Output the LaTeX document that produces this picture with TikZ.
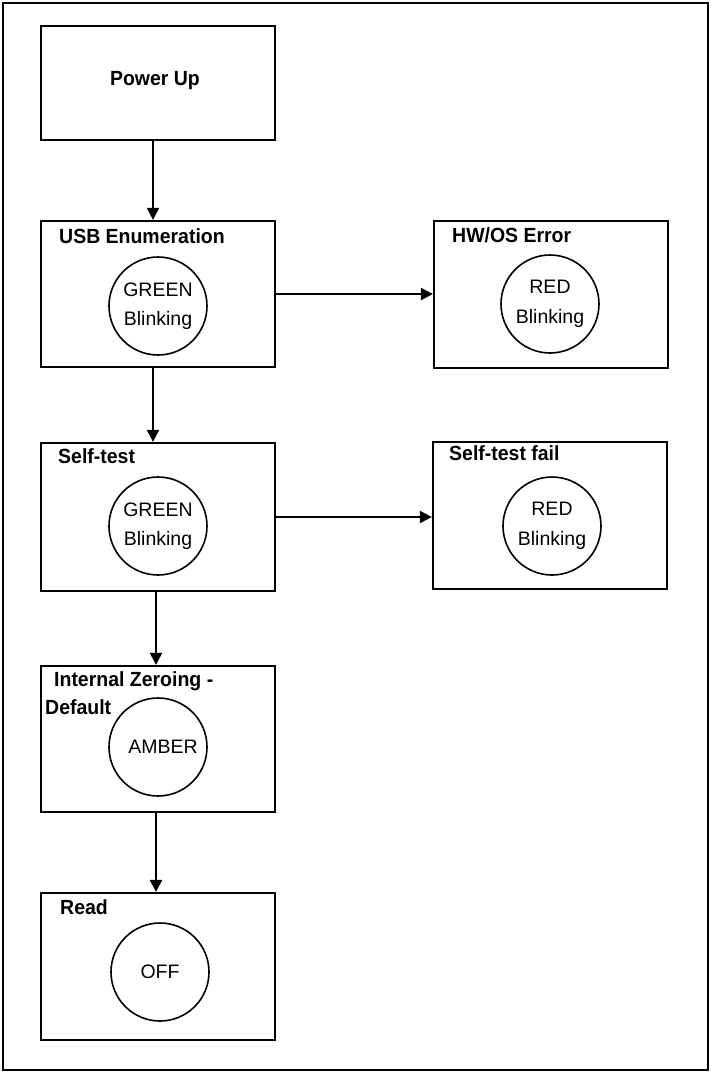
\documentclass[tikz,border=0pt]{standalone}
\usepackage{fontspec}
\setmainfont{Liberation Sans}
\newfontfamily\ttlfont[FakeStretch=0.95]{Liberation Sans}
\usetikzlibrary{arrows.meta}
\begin{document}
\begin{tikzpicture}[x=1pt,y=-1pt,
  statebox/.style={draw,line width=2.2pt,rectangle,minimum width=234pt,inner sep=0pt},
  lamp/.style={draw,line width=1.6pt,circle,minimum size=98pt,inner sep=0pt,align=center,font=\fontsize{19.5}{29.5}\selectfont},
  ttl/.style={anchor=base west,inner sep=0pt,font=\ttlfont\fontsize{20.5}{24}\selectfont\bfseries},
  arr/.style={line width=2pt,-{Triangle[width=12pt,length=12pt]}}]
\useasboundingbox (0,0) rectangle (711,1072);
\draw[line width=2.2pt] (3,3) rectangle (708,1070);
% boxes
\node[statebox,minimum height=114pt] (pu) at (158,83) {};
\node[statebox,minimum height=146pt] (usb) at (158,294) {};
\node[statebox,minimum height=147pt] (hw) at (551,294.5) {};
\node[statebox,minimum height=148pt] (st) at (158,517) {};
\node[statebox,minimum height=147pt] (stf) at (550,515.5) {};
\node[statebox,minimum height=146pt] (iz) at (158,739) {};
\node[statebox,minimum height=147pt] (rd) at (158,966.5) {};
% titles
\node[ttl,anchor=base] (tpu) at (155,85) {Power Up};
\node[ttl] (tusb) at (59,243) {USB Enumeration};
\node[ttl] (thw) at (452,242) {HW/OS Error};
\node[ttl] (tst) at (58,463) {Self-test};
\node[ttl] (tstf) at (449,460) {Self-test fail};
\node[ttl] (tiz1) at (54,686) {Internal Zeroing -};
\node[ttl] (tiz2) at (45,714) {Default};
\node[ttl] (trd) at (60,914) {Read};
% lamps
\node[lamp] (cusb) at (158,306) {GREEN\\Blinking};
\node[lamp] (chw) at (550,304) {RED\\Blinking};
\node[lamp] (cst) at (158,526) {GREEN\\Blinking};
\node[lamp] (cstf) at (552,526) {RED\\Blinking};
\node[lamp] (ciz) at (158,747) {\hspace*{10pt}AMBER};
\node[lamp] (crd) at (160,972) {OFF};
% connectors
\draw[arr] ([xshift=-5pt]pu.south) -- ([xshift=-5pt]usb.north);
\draw[arr] ([xshift=-5pt]usb.south) -- ([xshift=-5pt]st.north);
\draw[arr] ([xshift=-2pt]st.south) -- ([xshift=-2pt]iz.north);
\draw[arr] ([xshift=-2pt]iz.south) -- ([xshift=-2pt]rd.north);
\draw[arr] (usb.east) -- (usb.east -| hw.west);
\draw[arr] (st.east) -- (st.east -| stf.west);
\end{tikzpicture}
\end{document}
